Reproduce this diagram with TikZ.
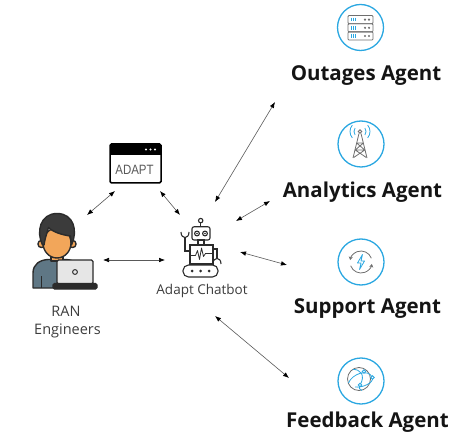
\documentclass[tikz,border=0pt]{standalone}
\usepackage{fontspec}
\setmainfont{Open Sans}
\newfontfamily\winfont{Liberation Sans}
\usetikzlibrary{arrows.meta,calc}
\definecolor{agentblue}{HTML}{2AA7E1}
\definecolor{iconline}{HTML}{6E6E6E}
\definecolor{inkdark}{HTML}{2B2B2B}
\definecolor{hair}{HTML}{3B3B3B}
\definecolor{skin}{HTML}{F2A65A}
\definecolor{shirt}{HTML}{5F7785}
\definecolor{screen}{HTML}{E6E6E6}
\definecolor{labelgray}{HTML}{3C3C3C}
\begin{document}
\begin{tikzpicture}[x=1pt,y=-1pt,
  link/.style={draw=black!65, line width=0.6pt,
    {Latex[length=6pt,width=4.6pt,color=black]}-{Latex[length=6pt,width=4.6pt,color=black]}},
  agentring/.style={circle, draw=agentblue, line width=1.3pt, minimum size=46pt, inner sep=0pt},
  agentlabel/.style={anchor=base, font=\fontsize{20.5}{23}\selectfont\bfseries, text=black!92, inner sep=0pt},
  plainlabel/.style={anchor=base, font=\fontsize{13.5}{16}\selectfont, text=labelgray, inner sep=0pt},
  icon/.style={draw=iconline, line width=0.8pt},
  iconblue/.style={draw=agentblue, line width=0.8pt},
  robotline/.style={draw=inkdark, line width=1.1pt},
  personline/.style={draw=inkdark, line width=1.4pt, line join=round}
]
\useasboundingbox (0,0) rectangle (462,435);

% ---------- agent rings and labels ----------
\node[agentring] (outring) at (360.5,27.5) {};
\node[agentring] (anaring) at (361,144) {};
\node[agentring] (supring) at (361,262) {};
\node[agentring] (fedring) at (361,381) {};
\node[agentlabel] (outlbl) at (366,81) {Outages Agent};
\node[agentlabel] (analbl) at (362.5,198) {Analytics Agent};
\node[agentlabel] (suplbl) at (367.5,313) {Support Agent};
\node[agentlabel] (fedlbl) at (367.5,427) {Feedback Agent};

% server rack
\foreach \r in {0,1,2}{
  \pgfmathsetmacro{\yy}{15.5+8.2*\r}
  \draw[icon, rounded corners=1pt] (348,\yy) rectangle (373,\yy+8.2);
  \foreach \t in {351,353,355}{\draw[iconblue, line width=0.6pt] (\t,\yy+2.2) -- (\t,\yy+6);}
  \fill[iconline] (365,\yy+4.1) circle (1.2) (369,\yy+4.1) circle (1.2);
}

% radio tower
\draw[icon] (360,131.5) circle (1.8);
\draw[icon, line join=round] (353,158) -- (359,133.5) (367,158) -- (361,133.5);
\draw[icon] (356.6,143) -- (363.4,143) (355.2,150) -- (364.8,150)
  (356.6,143) -- (364.8,150) (363.4,143) -- (355.2,150)
  (355.2,150) -- (366.3,157.5) (364.8,150) -- (353.7,157.5);
\draw[iconblue] ($(360,131.5)+(145:6)$) arc[start angle=145,end angle=215,radius=6];
\draw[iconblue] ($(360,131.5)+(140:10)$) arc[start angle=140,end angle=220,radius=10];
\draw[iconblue] ($(360,131.5)+(-35:6)$) arc[start angle=-35,end angle=35,radius=6];
\draw[iconblue] ($(360,131.5)+(-40:10)$) arc[start angle=-40,end angle=40,radius=10];

% refresh arrows with bolt
\draw[icon, -{Stealth[length=3.5pt,width=4pt]}] ($(361,262)+(340:11)$) arc[start angle=340,end angle=190,radius=11];
\draw[icon, -{Stealth[length=3.5pt,width=4pt]}] ($(361,262)+(160:11)$) arc[start angle=160,end angle=10,radius=11];
\draw[iconblue, line join=round] (362.5,254.5) -- (357.5,263) -- (361,263) -- (359.5,269.5) -- (364.5,261) -- (361,261) -- cycle;

% globe with network
\draw[icon] (359,379) circle (11.5);
\draw[iconblue] (348.5,383) .. controls (352,374) and (368,368) .. (372.5,377.5)
  .. controls (374,383) and (362,388) .. (355,387);
\draw[iconblue] (353,369.5) .. controls (360,369) and (366,375) .. (360,385)
  .. controls (358.5,388) and (359.5,390) .. (362,390.5);
\foreach \p in {(364,371.5),(372.5,377.5),(360,385)}{
  \filldraw[iconblue, fill=white] \p circle (1.7);
}

% ---------- ADAPT window ----------
\draw[line width=1.5pt, rounded corners=1.5pt] (110,144) rectangle (161,183);
\fill (110,144) rectangle (161,155);
\fill[white] (146,149.5) circle (1.1) (150.5,149.5) circle (1.1) (155,149.5) circle (1.1);
\node[font=\winfont\fontsize{13.5}{15}\selectfont, text=black!65, inner sep=0pt] (adapt) at (134.5,170) {\scalebox{0.85}[1]{ADAPT}};

% ---------- chatbot robot ----------
\draw[robotline] (200.7,226.8) -- (200.7,222.8);
\draw[robotline] (200.7,220.6) circle (2.2);
\draw[robotline, rounded corners=2pt] (192,226.8) rectangle (210,240);
\draw[robotline] (197,233.5) circle (2.4) (205,233.5) circle (2.4);
\fill[inkdark] (197,233.5) circle (0.9) (205,233.5) circle (0.9);
\draw[robotline] (198,240) rectangle (204,245);
\draw[robotline] (190,245) rectangle (213,264);
\draw[robotline, line join=round, line width=0.8pt] (190,255.5) -- (195.5,255.5) -- (197.5,250.5) -- (199.5,259.5)
  -- (201.5,248) -- (203.5,256.5) -- (205.5,253.5) -- (213,253.5);
\draw[robotline] (190,251) -- (185,251) -- (185,238);
\draw[robotline] (181,232) .. controls (181,239.5) and (189,239.5) .. (189,232);
\draw[robotline] (213,249) -- (217,249) -- (217,258.5);
\draw[robotline] (213,264) .. controls (213,256.5) and (221,256.5) .. (221,264);
\draw[robotline, rounded corners=5.5pt] (183,265) rectangle (218,277);
\fill[inkdark] (192,271) circle (1.5) (200.5,271) circle (1.5) (209,271) circle (1.5);
\node[plainlabel] (botlbl) at (202,294.5) {Adapt Chatbot};

% ---------- RAN engineer ----------
\filldraw[personline, fill=shirt] (33,288) -- (33,273) .. controls (33,264) and (40,260) .. (48,259.5)
  -- (66,259.5) .. controls (74,260) and (80,264) .. (80,272) -- (80,288) -- cycle;
\draw[personline, line width=1pt] (41,276) -- (41,288);
\filldraw[personline, fill=skin] (51,251) rectangle (63,261);
\filldraw[personline, fill=skin] (41.5,244) circle (3.6) (72.5,244) circle (3.6);
\filldraw[personline, fill=skin] (57,243) ellipse [x radius=14, y radius=15];
\filldraw[personline, fill=hair] (42.5,245) .. controls (36,232) and (40,213.5) .. (57,213.5)
  .. controls (74,213.5) and (78,231) .. (71.5,245) -- (70.5,236)
  .. controls (62,235) and (53,232) .. (48.5,227.5) .. controls (47,233) and (45,238) .. (44,245) -- cycle;
\filldraw[personline, fill=screen, rounded corners=1.5pt] (57,260) rectangle (93,284);
\draw[personline, line width=1pt] (75,272) circle (2.4);
\filldraw[personline, fill=inkdark, rounded corners=1.5pt] (53,283.5) rectangle (97,289);
\node[plainlabel, font=\fontsize{14.5}{17}\selectfont] (ranlbl) at (66,316) {RAN};
\node[plainlabel, font=\fontsize{14.5}{17}\selectfont] (englbl) at (67.5,334) {Engineers};

% ---------- connectors ----------
\coordinate (c1a) at (215,202); \coordinate (c1b) at (275,102);
\coordinate (c2a) at (236,221); \coordinate (c2b) at (270,201);
\coordinate (c3a) at (240,252); \coordinate (c3b) at (287,265);
\coordinate (c4a) at (215,316); \coordinate (c4b) at (289,378);
\coordinate (c5a) at (103,260); \coordinate (c5b) at (165,260);
\coordinate (c6a) at (87,215);  \coordinate (c6b) at (115,191);
\coordinate (c7a) at (160,191); \coordinate (c7b) at (180,215);
\draw[link] (c1a) -- (c1b);
\draw[link] (c2a) -- (c2b);
\draw[link] (c3a) -- (c3b);
\draw[link] (c4a) -- (c4b);
\draw[link] (c5a) -- (c5b);
\draw[link] (c6a) -- (c6b);
\draw[link] (c7a) -- (c7b);
\end{tikzpicture}
\end{document}
